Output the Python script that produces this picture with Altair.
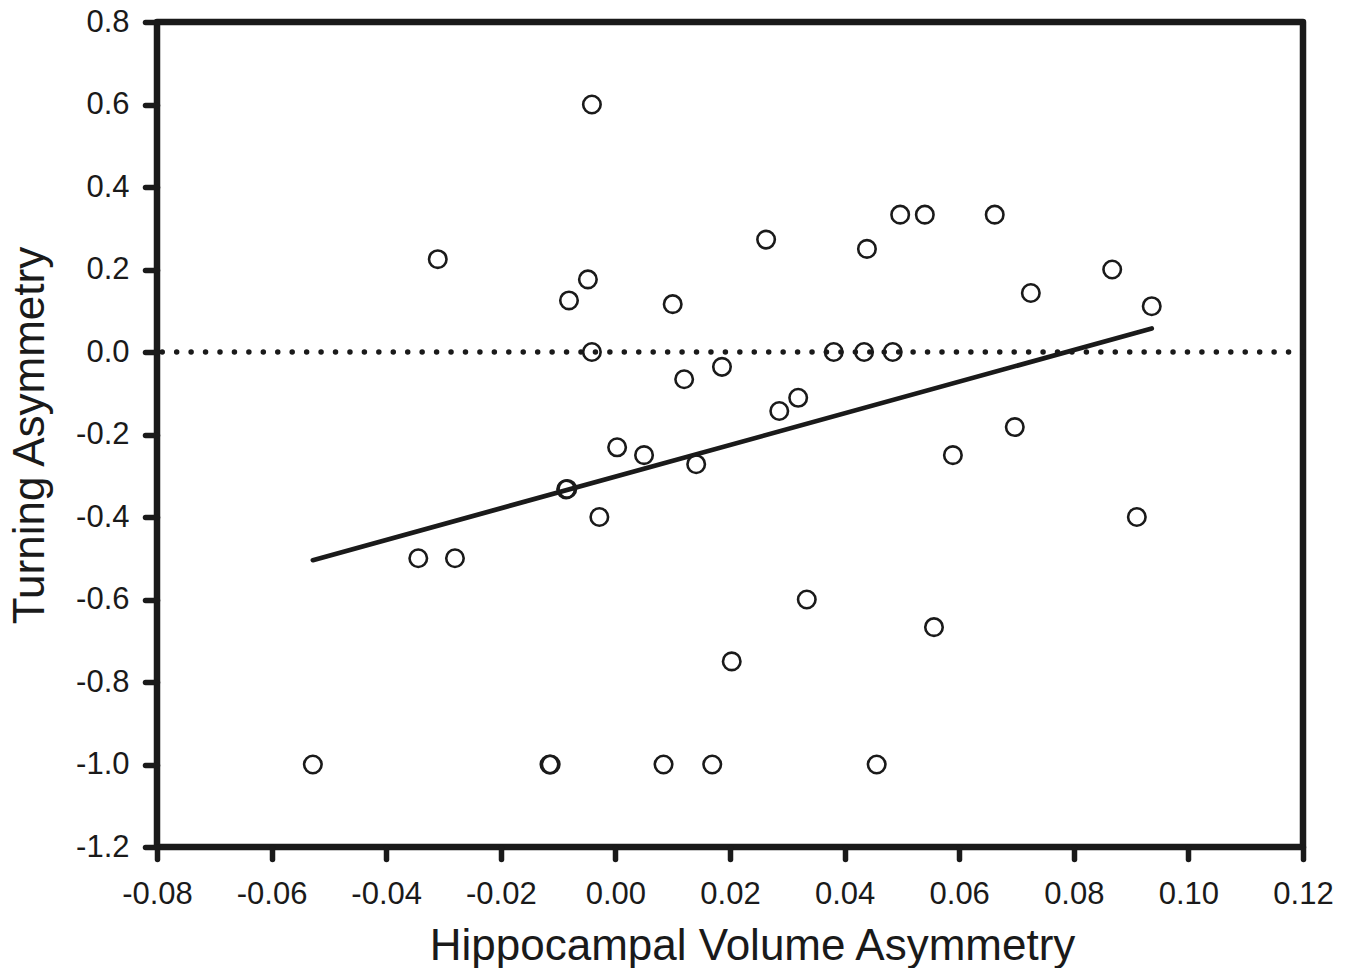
import altair as alt
import pandas as pd

# Data
hva = [-0.0528, -0.0344, -0.0280, -0.0310, -0.0115, -0.0113, -0.0041, -0.0081,
       -0.0048, -0.0041, -0.0086, -0.0084, -0.0028, 0.0003, 0.0050, 0.0100,
       0.0120, 0.0141, 0.0186, 0.0084, 0.0169, 0.0203, 0.0263, 0.0286,
       0.0319, 0.0334, 0.0381, 0.0434, 0.0484, 0.0439, 0.0456, 0.0497,
       0.0540, 0.0556, 0.0589, 0.0662, 0.0697, 0.0725, 0.0867, 0.0910, 0.0936]
turning = [-1.0, -0.5, -0.5, 0.225, -1.0, -1.0, 0.6, 0.125,
           0.176, 0.0, -0.333, -0.332, -0.4, -0.231, -0.25, 0.116,
           -0.066, -0.272, -0.036, -1.0, -1.0, -0.75, 0.2725, -0.143,
           -0.111, -0.6, 0.0, 0.0, 0.0, 0.25, -1.0, 0.333,
           0.333, -0.667, -0.25, 0.333, -0.182, 0.143, 0.2, -0.4, 0.111]

x_ticks = [-0.08, -0.06, -0.04, -0.02, 0.0, 0.02, 0.04, 0.06, 0.08, 0.10, 0.12]
y_ticks = [-1.2, -1.0, -0.8, -0.6, -0.4, -0.2, 0.0, 0.2, 0.4, 0.6, 0.8]
ref_line = [0.0]

df = pd.DataFrame({"x": hva, "y": turning})
ref_df = pd.DataFrame({"y": ref_line})

FONT = "Liberation Sans"
INK = "#1a1a1a"

x_scale = alt.Scale(domain=[-0.08, 0.12], nice=False, zero=False)
y_scale = alt.Scale(domain=[-1.2, 0.8], nice=False, zero=False)

x_axis = alt.Axis(
    values=x_ticks,
    labelExpr="replace(format(datum.value, '.2f'), '\u2212', '-')",
    title="Hippocampal Volume Asymmetry",
    titleFontSize=44, titleFont=FONT, titleFontWeight="normal", titleColor=INK,
    titleX=595, titleY=112, titleBaseline="alphabetic", titleAlign="center",
    labelFontSize=31, labelFont=FONT, labelColor=INK, labelPadding=20,
    tickSize=12, tickWidth=5.5, tickColor=INK, tickCap="round",
    domain=False, grid=False, labelFlush=False, labelOverlap=False,
)
y_axis = alt.Axis(
    values=y_ticks,
    labelExpr="replace(format(datum.value, '.1f'), '\u2212', '-')",
    title="Turning Asymmetry",
    titleFontSize=44, titleFont=FONT, titleFontWeight="normal", titleColor=INK,
    titleAngle=270, titleX=-114, titleY=413, titleBaseline="alphabetic", titleAlign="center",
    labelFontSize=31, labelFont=FONT, labelColor=INK, labelPadding=16,
    tickSize=12, tickWidth=5.5, tickColor=INK, tickCap="round",
    domain=False, grid=False, labelFlush=False, labelOverlap=False,
)

base = alt.Chart(df)

points = base.mark_point(
    shape="circle", filled=False, size=305, strokeWidth=2.6, color=INK, opacity=1
).encode(
    x=alt.X("x:Q", scale=x_scale, axis=x_axis),
    y=alt.Y("y:Q", scale=y_scale, axis=y_axis),
)

fit = base.transform_regression("x", "y").mark_line(
    color=INK, strokeWidth=4.7, strokeCap="round"
).encode(
    x=alt.X("x:Q", scale=x_scale),
    y=alt.Y("y:Q", scale=y_scale),
)

zero = alt.Chart(ref_df).mark_rule(
    color=INK, strokeWidth=5.5, strokeDash=[0.01, 14.43], strokeCap="round"
).encode(y=alt.Y("y:Q", scale=y_scale))

chart = alt.layer(zero, fit, points).properties(
    width=1146, height=825,
    autosize=alt.AutoSizeParams(type="none"),
    padding={"left": 149, "top": 14, "right": 40, "bottom": 130},
    background="white",
).configure_view(
    stroke=INK, strokeWidth=6.5, strokeJoin="round"
)

chart.save("out.html", embed_options={"renderer": "svg", "actions": False})
